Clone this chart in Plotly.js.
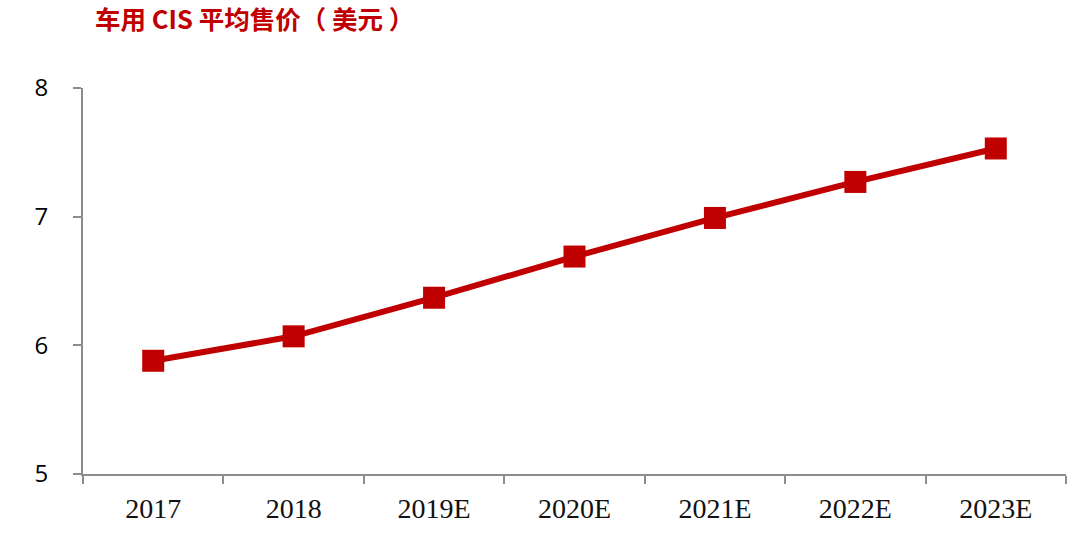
<!DOCTYPE html>
<html>
<head>
<meta charset="utf-8">
<script src="https://cdn.plot.ly/plotly-3.0.1.min.js"></script>
<style>html,body{margin:0;padding:0;background:#fff;}#chart{width:1080px;height:533px;}</style>
</head>
<body>
<div id="chart"></div>
<script>
const years = ["2017", "2018", "2019E", "2020E", "2021E", "2022E", "2023E"];
const avgPrice = [5.88, 6.07, 6.37, 6.69, 6.99, 7.27, 7.53];
const yTicks = [5, 6, 7, 8];
const titleText = "车用 CIS 平均售价（ 美元 ）";

const trace = {
  type: "scatter",
  mode: "lines+markers",
  x: years,
  y: avgPrice,
  line: {color: "#C00000", width: 6},
  marker: {symbol: "square", size: 22, color: "#C00000"},
  hoverinfo: "x+y"
};

const layout = {
  width: 1080,
  height: 533,
  margin: {l: 83, r: 14, t: 88, b: 59},
  paper_bgcolor: "#ffffff",
  plot_bgcolor: "#ffffff",
  showlegend: false,
  title: {
    text: titleText,
    xref: "container", yref: "container",
    x: 95/1080, xanchor: "left",
    y: 1 - 20/533, yanchor: "middle",
    font: {family: "Noto Sans CJK SC", size: 25.5, color: "#C00000", weight: "bold"}
  },
  xaxis: {
    type: "category",
    range: [-0.5, 6.5],
    showline: true,
    linecolor: "#8c8c8c",
    linewidth: 2,
    ticks: "outside",
    tickson: "boundaries",
    ticklen: 8,
    tickwidth: 2,
    tickcolor: "#8c8c8c",
    showgrid: false,
    zeroline: false,
    ticklabelstandoff: 8,
    tickfont: {family: "Liberation Serif", size: 28, color: "#111"},
    fixedrange: true
  },
  yaxis: {
    range: [5, 8],
    tickvals: yTicks,
    ticktext: yTicks.map(String),
    showline: true,
    linecolor: "#8c8c8c",
    linewidth: 2,
    ticks: "outside",
    ticklen: 8,
    tickwidth: 2,
    tickcolor: "#8c8c8c",
    showgrid: false,
    zeroline: false,
    ticklabelstandoff: 20,
    tickfont: {family: "Open Sans", size: 24, color: "#000"},
    fixedrange: true
  }
};

Plotly.newPlot("chart", [trace], layout, {displayModeBar: false, staticPlot: true});
</script>
</body>
</html>
